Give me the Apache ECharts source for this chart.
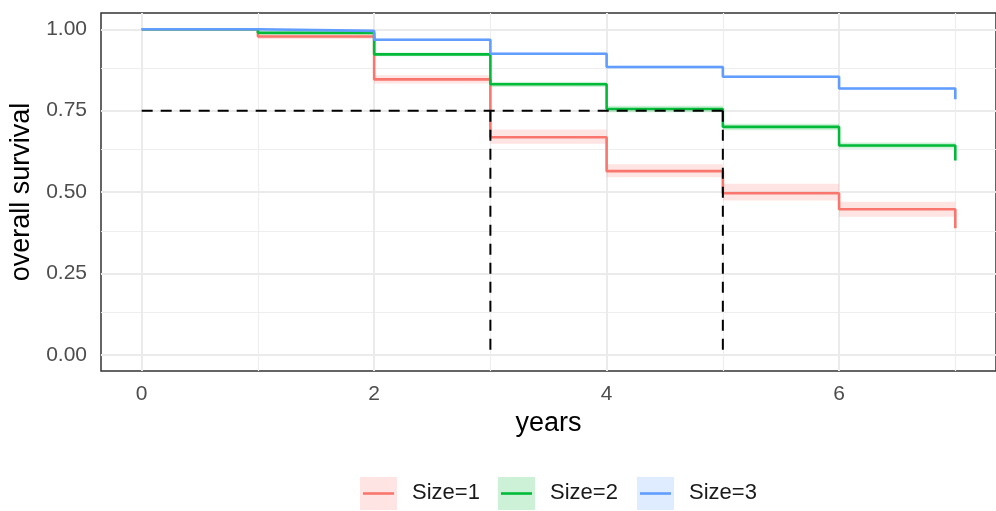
<!DOCTYPE html>
<html>
<head>
<meta charset="utf-8">
<script src="https://cdn.jsdelivr.net/npm/echarts@6/dist/echarts.min.js"></script>
<style>
  html, body { margin: 0; padding: 0; background: #fff; }
  #chart { width: 996px; height: 511px; }
</style>
</head>
<body>
<div id="chart"></div>
<script>
// Kaplan-Meier style survival curves by tumour size group
const groups = ['Size=1', 'Size=2', 'Size=3'];
const colors = ['#F8766D', '#00BA38', '#619CFF'];
const fills = ['rgba(248,118,109,0.2)', 'rgba(0,186,56,0.2)', 'rgba(97,156,255,0.2)'];

// event times (years)
const times = [0, 1, 2, 3, 4, 5, 6, 7];

// survival estimate at each time (held until the next time)
const survSize1 = [1.000, 0.978, 0.846, 0.668, 0.564, 0.496, 0.447, 0.389];
const survSize2 = [1.000, 0.989, 0.923, 0.831, 0.755, 0.700, 0.643, 0.597];
const survSize3 = [1.000, 0.995, 0.968, 0.925, 0.884, 0.854, 0.818, 0.785];

// confidence band per interval [times[i], times[i+1]]
const lowerSize1 = [1.000, 0.970, 0.833, 0.648, 0.545, 0.474, 0.424];
const upperSize1 = [1.000, 0.986, 0.859, 0.692, 0.585, 0.525, 0.470];
const lowerSize2 = [1.000, 0.985, 0.917, 0.823, 0.745, 0.690, 0.634];
const upperSize2 = [1.000, 0.993, 0.929, 0.839, 0.765, 0.710, 0.652];
const lowerSize3 = [1.000, 0.992, 0.964, 0.921, 0.880, 0.850, 0.814];
const upperSize3 = [1.000, 0.998, 0.972, 0.929, 0.888, 0.858, 0.822];

// reference lines: survival level and the times where curves reach it
const refLevel = 0.75;
const refTimes = [3, 5];

// axis ticks
const xTicks = [0, 2, 4, 6];
const xMinor = [1, 3, 5, 7];
const yTicks = [0, 0.25, 0.5, 0.75, 1.0];
const yMinor = [0.125, 0.375, 0.625, 0.875];

const survs = [survSize1, survSize2, survSize3];
const lowers = [lowerSize1, lowerSize2, lowerSize3];
const uppers = [upperSize1, upperSize2, upperSize3];

const FONT = "'Liberation Sans', Arial, Helvetica, sans-serif";

const chart = echarts.init(document.getElementById('chart'), null, { renderer: 'canvas' });

const series = [];

// panel grid lines (kept beneath everything else)
const gridStyleMajor = { color: '#EBEBEB', width: 2, type: 'solid' };
const gridStyleMinor = { color: '#EEEEEE', width: 1.2, type: 'solid' };
series.push({
  type: 'line',
  data: [],
  z: 1,
  silent: true,
  markLine: {
    z: 1,
    silent: true,
    symbol: ['none', 'none'],
    label: { show: false },
    animation: false,
    data: [
      ...xMinor.map(v => ({ xAxis: v, lineStyle: gridStyleMinor })),
      ...yMinor.map(v => ({ yAxis: v, lineStyle: gridStyleMinor })),
      ...xTicks.map(v => ({ xAxis: v, lineStyle: gridStyleMajor })),
      ...yTicks.map(v => ({ yAxis: v, lineStyle: gridStyleMajor }))
    ]
  }
});

// confidence ribbons
groups.forEach((g, k) => {
  const band = [];
  for (let i = 0; i < times.length - 1; i++) {
    band.push([times[i], times[i + 1], lowers[k][i], uppers[k][i]]);
  }
  series.push({
    type: 'custom',
    name: g + ' band',
    z: 6,
    silent: true,
    data: band,
    encode: { x: [0, 1], y: [2, 3] },
    renderItem: (params, api) => {
      const a = api.coord([api.value(0), api.value(3)]);
      const b = api.coord([api.value(1), api.value(2)]);
      return {
        type: 'rect',
        shape: { x: a[0], y: a[1], width: b[0] - a[0], height: b[1] - a[1] },
        style: { fill: fills[k] }
      };
    }
  });
});

// survival step curves
groups.forEach((g, k) => {
  series.push({
    type: 'line',
    name: g,
    step: 'end',
    z: 7,
    symbol: 'none',
    silent: true,
    data: times.map((t, i) => [t, survs[k][i]]),
    lineStyle: { color: colors[k], width: 2.6 },
    itemStyle: { color: colors[k] }
  });
});

// dashed reference lines
const dash = { color: '#000', width: 2, type: [11, 8] };
const refSegments = [[[0, refLevel], [Math.max(...refTimes), refLevel]]];
refTimes.forEach(t => refSegments.push([[t, refLevel], [t, 0]]));
refSegments.forEach(seg => {
  series.push({
    type: 'line',
    z: 8,
    symbol: 'none',
    silent: true,
    data: seg,
    lineStyle: dash
  });
});

// legend drawn as key boxes with a line, plus labels
const legendKeyX = [360, 498, 637];
const legendGraphics = [];
groups.forEach((g, k) => {
  const x = legendKeyX[k];
  legendGraphics.push({
    type: 'rect', left: x, top: 477,
    shape: { width: 37, height: 33 },
    style: { fill: fills[k] }
  });
  legendGraphics.push({
    type: 'line',
    shape: { x1: x + 3, y1: 493.5, x2: x + 34, y2: 493.5 },
    style: { stroke: colors[k], lineWidth: 2.6 }
  });
  legendGraphics.push({
    type: 'text', left: x + 52, top: 482,
    style: { text: g, font: '22px ' + FONT, fill: '#1A1A1A' }
  });
});

chart.setOption({
  animation: false,
  backgroundColor: '#fff',
  textStyle: { fontFamily: FONT },
  grid: {
    left: 101, top: 13, right: -11, bottom: 140,
    show: true, borderColor: '#333333', borderWidth: 1.5, backgroundColor: '#fff',
    containLabel: false
  },
  xAxis: {
    type: 'value',
    min: -0.35, max: 7.35,
    name: 'years',
    nameLocation: 'middle',
    nameGap: 37,
    nameTextStyle: { fontSize: 27, color: '#000', fontFamily: FONT },
    axisLine: { show: false },
    splitLine: { show: false },
    axisTick: { show: true, length: 6, lineStyle: { color: '#333333', width: 1.5 }, customValues: xTicks },
    axisLabel: { show: true, fontSize: 21, color: '#4D4D4D', margin: 13, customValues: xTicks, fontFamily: FONT }
  },
  yAxis: {
    type: 'value',
    min: -0.05, max: 1.05,
    name: 'overall survival',
    nameLocation: 'middle',
    nameGap: 66,
    nameTextStyle: { fontSize: 27, color: '#000', fontFamily: FONT },
    axisLine: { show: false },
    splitLine: { show: false },
    axisTick: { show: true, length: 6, lineStyle: { color: '#333333', width: 1.5 }, customValues: yTicks },
    axisLabel: {
      show: true, fontSize: 21, color: '#4D4D4D', margin: 14, customValues: yTicks, fontFamily: FONT,
      formatter: v => v.toFixed(2)
    }
  },
  graphic: legendGraphics,
  series: series
});
</script>
</body>
</html>
